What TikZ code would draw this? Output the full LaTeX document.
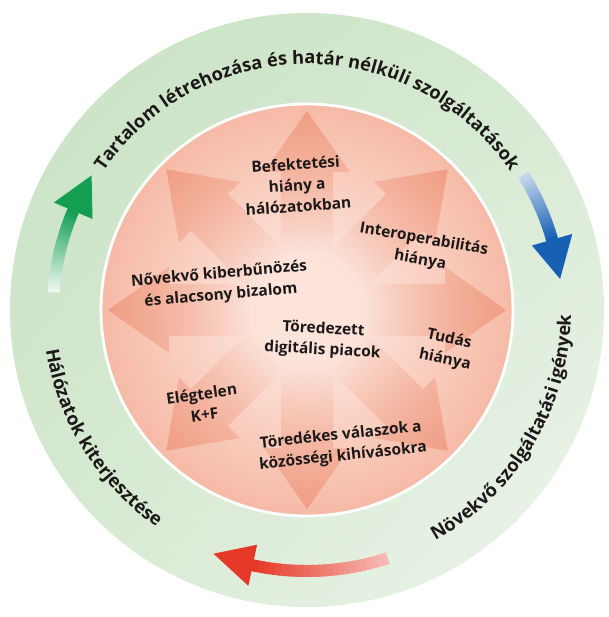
\documentclass[tikz,border=0pt]{standalone}
\usepackage{fontspec}
\setmainfont{Open Sans}
\usetikzlibrary{positioning,decorations.text,fadings,shadings}

\definecolor{ringgreen}{RGB}{200,226,196}
\definecolor{ringmid}{RGB}{214,233,208}
\definecolor{ringpale}{RGB}{238,245,238}
\definecolor{discedge}{RGB}{246,186,166}
\definecolor{disccentre}{RGB}{252,228,219}
\definecolor{rayhead}{RGB}{238,146,118}
\definecolor{cyclegreen}{RGB}{20,158,82}
\definecolor{cycleblue}{RGB}{24,96,180}
\definecolor{cyclered}{RGB}{230,56,38}
\definecolor{inkdark}{RGB}{28,24,24}

\tikzfading[name=rayfade, left color=transparent!100, right color=transparent!30]
\pgfdeclareradialshading{discglow}{\pgfpoint{0bp}{0bp}}{color(0bp)=(disccentre); color(6bp)=(disccentre); color(25bp)=(discedge); color(50bp)=(discedge)}

\newcommand\ringfont{\bfseries\fontsize{13}{15}\selectfont}

% curved arrow in the outer ring: colour, radius, tail angle, head base angle, tip angle, tail tint
\newcommand\ringarrow[6]{%
  \foreach \k in {0,...,23} {
    \pgfmathsetmacro\ringa{#3+(#4-#3)*\k/24}
    \pgfmathsetmacro\ringb{#3+(#4-#3)*(\k+1.5)/24}
    \pgfmathtruncatemacro\ringpct{#6+(100-#6)*\k/23}
    \draw[#1!\ringpct!white, line width=8.5pt] (\ringa:#2) arc[start angle=\ringa, end angle=\ringb, radius=#2];
  }
  \fill[#1] ({#4}:{#2-21}) -- ({#5}:{#2}) -- ({#4}:{#2+21}) -- cycle;
}

\begin{document}
\begin{tikzpicture}[
    x=0.025cm, y=0.025cm,
    issue/.style={font=\bfseries\fontsize{11}{15}\selectfont, text=inkdark, align=center, inner sep=0pt},
    ringtext/.style={decorate, decoration={text along path, text align=center, text color=inkdark, text={|\ringfont|#1}}}
]
\fill[white] (-307,-307) rectangle (302,310);
\useasboundingbox (-307,-307) rectangle (302,310);

% outer ring and inner disc
\shade[upper left=ringgreen, upper right=ringmid, lower left=ringmid, lower right=ringpale] (0,0) circle (297);
\shade[shading=discglow, draw=white, line width=2pt] (0,0) circle (206);

% eight rays pointing outwards
\foreach \a in {0,45,...,315} {
  \begin{scope}[transform canvas={rotate=\a}]
    \fill[rayhead, path fading=rayfade] (58,-26) -- (138,-26) -- (138,-43) -- (199,0) -- (138,43) -- (138,26) -- (58,26) -- cycle;
  \end{scope}
}

% the cycle round the ring
\ringarrow{cyclegreen}{254}{176}{157}{148}{8}
\ringarrow{cycleblue}{255}{32}{16}{7}{25}
\ringarrow{cyclered}{261}{-72}{-102}{-111}{35}

\path[ringtext={Tartalom létrehozása és határ nélküli szolgáltatások}] (150:246) arc[start angle=150, end angle=30, radius=246];
\path[ringtext={Növekvő szolgáltatási igények}] (-64:264) arc[start angle=-64, end angle=2, radius=264];
\path[ringtext={Hálózatok kiterjesztése}] (185:264) arc[start angle=185, end angle=239, radius=264];

% problems inside the disc
\node[issue, rotate=4] (invest) at (-10,125) {Befektetési\\hiány a\\hálózatokban};
\node[issue, rotate=-10] (interop) at (115,60) {Interoperabilitás\\hiánya};
\node[issue, rotate=5] (cyber) at (-87,25) {Nővekvő kiberbűnözés\\és alacsony bizalom};
\node[issue, rotate=-3] (market) at (16,-30) {Töredezett\\digitális piacok};
\node[issue, rotate=-12] (skills) at (140,-40) {Tudás\\hiánya};
\node[issue, rotate=8] (research) at (-104,-94) {Elégtelen\\K+F};
\node[issue, rotate=6] (social) at (35,-136) {Töredékes válaszok a\\közösségi kihívásokra};
\end{tikzpicture}
\end{document}
